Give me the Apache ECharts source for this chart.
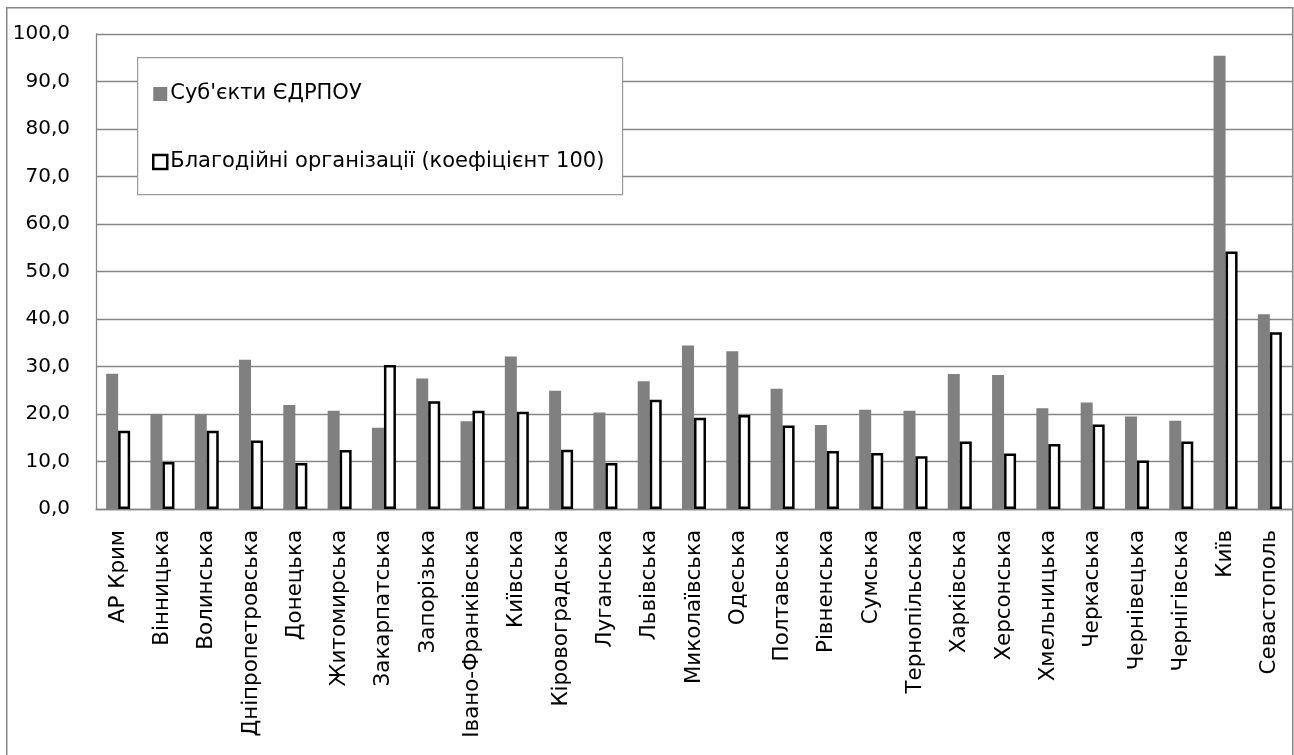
<!DOCTYPE html>
<html>
<head>
<meta charset="utf-8">
<script src="https://cdn.jsdelivr.net/npm/echarts@6/dist/echarts.min.js"></script>
<style>
html,body{margin:0;padding:0;background:#fff;}
#chart{width:1294px;height:755px;}
</style>
</head>
<body>
<div id="chart"></div>
<script>
const categories = ["АР Крим","Вінницька","Волинська","Дніпропетровська","Донецька","Житомирська","Закарпатська","Запорізька","Івано-Франківська","Київська","Кіровоградська","Луганська","Львівська","Миколаївська","Одеська","Полтавська","Рівненська","Сумська","Тернопільська","Харківська","Херсонська","Хмельницька","Черкаська","Чернівецька","Чернігівська","Київ","Севастополь"];
const seriesNames = ["Суб'єкти ЄДРПОУ","Благодійні організації (коефіцієнт 100)"];
const edrpou = [28.5,20.0,20.0,31.4,21.9,20.7,17.1,27.5,18.5,32.1,24.9,20.3,26.9,34.4,33.2,25.3,17.7,20.9,20.7,28.4,28.2,21.2,22.4,19.5,18.6,95.4,41.0];
const charity = [16.5,9.9,16.5,14.4,9.7,12.4,30.3,22.7,20.7,20.5,12.5,9.7,23.0,19.2,19.8,17.6,12.2,11.8,11.1,14.2,11.7,13.7,17.8,10.2,14.2,54.2,37.2];

const FONT = 'DejaVu Sans';
const chart = echarts.init(document.getElementById('chart'), null, {renderer:'canvas'});
chart.setOption({
  animation:false,
  backgroundColor:'#fff',
  textStyle:{fontFamily:FONT,color:'#000'},
  graphic:[
    {type:'rect', left:6, top:7, z:-10, silent:true,
     shape:{x:0,y:0,width:1286,height:760},
     style:{fill:'#fff',stroke:'#868686',lineWidth:1.5}},
    {type:'rect', left:137, top:57, z:3, silent:true,
     shape:{x:0,y:0,width:485,height:137},
     style:{fill:'#fff',stroke:'#9a9a9a',lineWidth:1.2}}
  ],
  grid:{left:96,right:2,top:34,bottom:246,containLabel:false},
  legend:{
    orient:'vertical', left:137, top:57, z:5,
    padding:[25,11,23,15],
    itemGap:44, itemWidth:14, itemHeight:14,
    textStyle:{fontFamily:FONT,fontSize:21,color:'#000',lineHeight:24,padding:[0,0,0,-2]},
    data:[
      {name:seriesNames[0],icon:'rect',itemStyle:{color:'#808080',borderWidth:0}},
      {name:seriesNames[1],icon:'rect',itemStyle:{color:'#fff',borderColor:'#000',borderWidth:2.5}}
    ]
  },
  xAxis:{
    type:'category', data:categories,
    axisLine:{lineStyle:{color:'#868686',width:1.3}},
    axisTick:{show:false},
    axisLabel:{rotate:90,interval:0,margin:21,fontFamily:FONT,fontSize:21.4,color:'#000'}
  },
  yAxis:{
    type:'value', min:0, max:100, interval:10,
    axisLine:{show:true,lineStyle:{color:'#868686',width:1.3}},
    axisTick:{show:false},
    splitLine:{lineStyle:{color:'#868686',width:1.3}},
    axisLabel:{margin:26,fontFamily:FONT,fontSize:20,color:'#000',
      formatter:v=>v.toFixed(1).replace('.',',')}
  },
  series:[
    {name:seriesNames[0],type:'bar',data:edrpou,barWidth:12,barGap:'0%',
     itemStyle:{color:'#808080'}},
    {name:seriesNames[1],type:'bar',data:charity,barWidth:12,barGap:'0%',
     itemStyle:{color:'#fff',borderColor:'#000',borderWidth:2.5}}
  ]
});
</script>
</body>
</html>
